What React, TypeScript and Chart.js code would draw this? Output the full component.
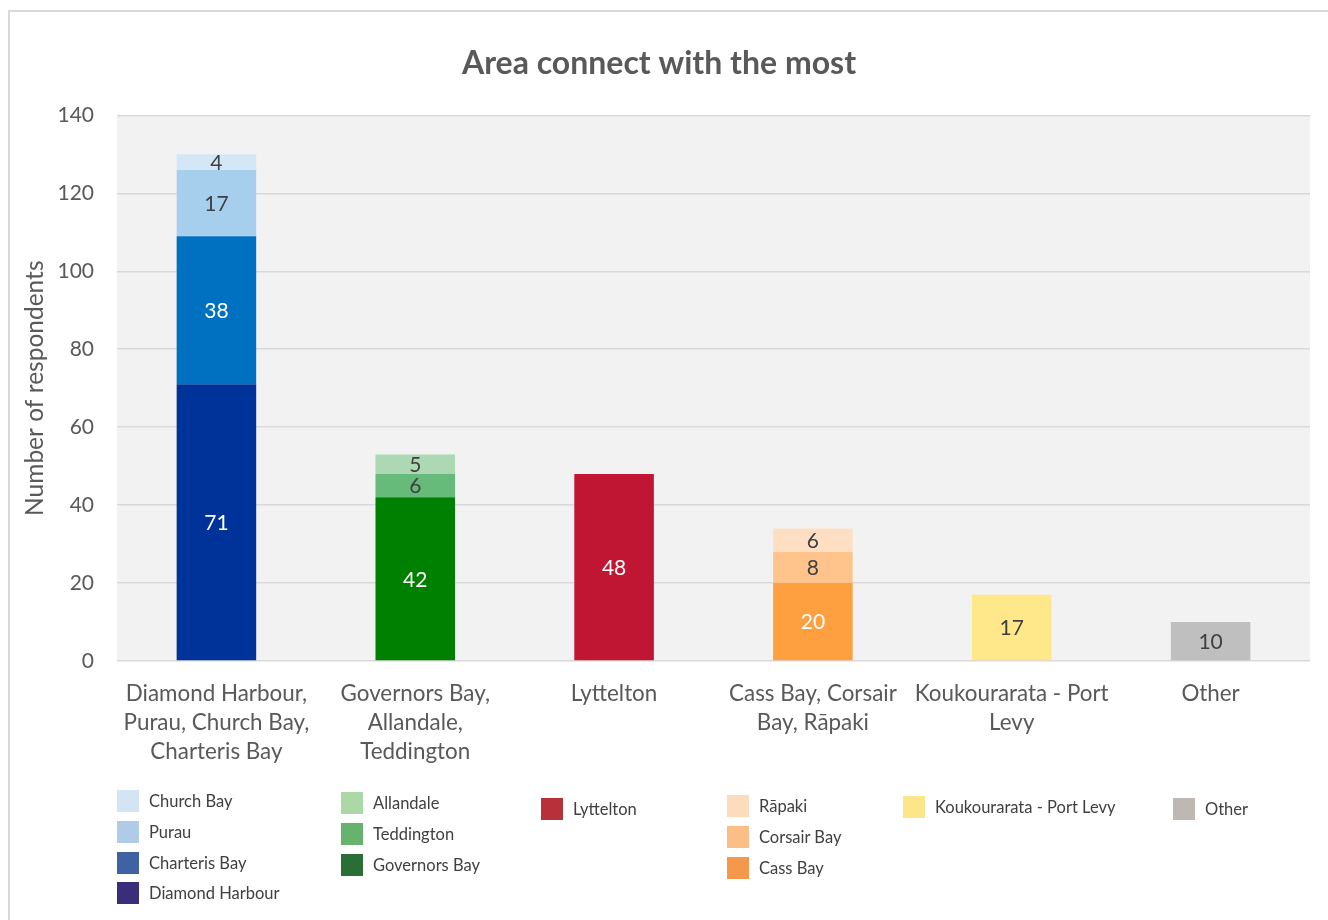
import React, { useEffect, useRef } from "react";
import { Chart, registerables } from "chart.js";

Chart.register(...registerables);

const titleText = "Area connect with the most";
const yAxisTitle = "Number of respondents";

const categories: string[][] = [
  ["Diamond Harbour,", "Purau, Church Bay,", "Charteris Bay"],
  ["Governors Bay,", "Allandale,", "Teddington"],
  ["Lyttelton"],
  ["Cass Bay, Corsair", "Bay, Rāpaki"],
  ["Koukourarata - Port", "Levy"],
  ["Other"],
];

// stacked segments, bottom first within each category
const segmentNames = [
  "Diamond Harbour",
  "Charteris Bay",
  "Purau",
  "Church Bay",
  "Governors Bay",
  "Teddington",
  "Allandale",
  "Lyttelton",
  "Cass Bay",
  "Corsair Bay",
  "Rāpaki",
  "Koukourarata - Port Levy",
  "Other",
];
const segmentCategory = [0, 0, 0, 0, 1, 1, 1, 2, 3, 3, 3, 4, 5];
const segmentValues = [71, 38, 17, 4, 42, 6, 5, 48, 20, 8, 6, 17, 10];

const barColors = [
  "#003399",
  "#0070c0",
  "#a6cfee",
  "#d3e7f6",
  "#008000",
  "#66bb7a",
  "#acd8b4",
  "#c01533",
  "#ffa040",
  "#ffc48c",
  "#ffdfc4",
  "#ffe88a",
  "#bfbfbf",
];
const legendColors = [
  "#3a2d7a",
  "#3f62a3",
  "#afcbe8",
  "#d3e5f4",
  "#2a6e36",
  "#66b36e",
  "#acd8a8",
  "#b8313a",
  "#f5984c",
  "#fbbe86",
  "#fddcbe",
  "#fde68a",
  "#bfb8b2",
];
const labelColors = [
  "#ffffff",
  "#ffffff",
  "#404040",
  "#404040",
  "#ffffff",
  "#404040",
  "#404040",
  "#ffffff",
  "#ffffff",
  "#404040",
  "#404040",
  "#404040",
  "#404040",
];

const yTicks = [0, 20, 40, 60, 80, 100, 120, 140];

// legend groups (column order, top to bottom) as indices into segmentNames
const legendGroups = [
  [3, 2, 1, 0],
  [6, 5, 4],
  [7],
  [10, 9, 8],
  [11],
  [12],
];
const legendGroupPos = [
  { left: 109, top: 778 },
  { left: 333, top: 780 },
  { left: 533, top: 786 },
  { left: 719, top: 783 },
  { left: 895, top: 784 },
  { left: 1165, top: 786 },
];

const FONT = "Lato, 'Open Sans', sans-serif";

const plotBg = {
  id: "plotBg",
  beforeDraw(chart: any) {
    const { ctx, chartArea } = chart;
    ctx.save();
    ctx.fillStyle = "#f2f2f2";
    ctx.fillRect(chartArea.left, chartArea.top, chartArea.right - chartArea.left, chartArea.bottom - chartArea.top);
    ctx.restore();
  },
};

const barLabels = {
  id: "barLabels",
  afterDatasetsDraw(chart: any) {
    const { ctx } = chart;
    ctx.save();
    ctx.font = `21px ${FONT}`;
    ctx.textAlign = "center";
    ctx.textBaseline = "middle";
    chart.data.datasets.forEach((ds: any, di: number) => {
      const meta = chart.getDatasetMeta(di);
      meta.data.forEach((el: any, i: number) => {
        const v = ds.data[i];
        if (v === null || v === undefined) return;
        ctx.fillStyle = labelColors[di];
        ctx.fillText(String(v), el.x, (el.y + el.base) / 2 + 1);
      });
    });
    ctx.restore();
  },
};

export default function App() {
  const ref = useRef<HTMLCanvasElement>(null);

  useEffect(() => {
    if (!ref.current) return;
    const datasets = segmentNames.map((name, si) => ({
      label: name,
      data: categories.map((_, ci) => (segmentCategory[si] === ci ? segmentValues[si] : null)),
      backgroundColor: barColors[si],
      borderWidth: 0,
      stack: "s",
      categoryPercentage: 1,
      barPercentage: 0.4,
    }));
    const chart = new Chart(ref.current, {
      type: "bar",
      data: { labels: categories, datasets },
      options: {
        responsive: false,
        animation: false,
        layout: { padding: { left: 0, right: 10, top: 0, bottom: 0 } },
        plugins: {
          legend: { display: false },
          tooltip: { enabled: false },
          title: {
            display: true,
            text: titleText,
            color: "#595959",
            font: { family: FONT, size: 32, weight: "bold" },
            padding: { top: 36, bottom: 33 },
          },
        },
        scales: {
          x: {
            stacked: true,
            grid: { display: false },
            border: { display: false },
            ticks: {
              color: "#595959",
              font: { family: FONT, size: 22.4, lineHeight: 1.3 },
              padding: 10,
              maxRotation: 0,
              autoSkip: false,
            },
            afterFit(scale: any) {
              scale.height = 127;
            },
          },
          y: {
            stacked: true,
            min: 0,
            max: 140,
            afterBuildTicks(scale: any) {
              scale.ticks = yTicks.map((v) => ({ value: v }));
            },
            grid: { color: "#d9d9d9", lineWidth: 1.5, drawTicks: false },
            border: { display: false },
            ticks: {
              color: "#595959",
              font: { family: FONT, size: 21 },
              padding: 23,
            },
            title: {
              display: true,
              text: yAxisTitle,
              color: "#595959",
              font: { family: FONT, size: 24.5 },
              padding: { top: 12, bottom: 0 },
            },
            afterFit(scale: any) {
              scale.width = 109;
            },
          },
        },
      },
      plugins: [plotBg, barLabels],
    });
    return () => chart.destroy();
  }, []);

  return (
    <div style={{ position: "relative", width: 1312, height: 900, fontFamily: FONT }}>
      <div
        style={{
          position: "fixed",
          left: 8,
          top: 10,
          width: 1340,
          height: 940,
          borderLeft: "2px solid #d9d9d9",
          borderTop: "2px solid #d9d9d9",
          pointerEvents: "none",
        }}
      />
      <canvas ref={ref} width={1312} height={780} style={{ position: "absolute", left: 0, top: 0 }} />
      {legendGroups.map((group, gi) => (
        <div key={gi} style={{ position: "absolute", left: legendGroupPos[gi].left, top: legendGroupPos[gi].top }}>
          {group.map((si) => (
            <div key={si} style={{ display: "flex", alignItems: "center", height: 30.7 }}>
              <div style={{ width: 22, height: 22, background: legendColors[si], marginRight: 10 }} />
              <span style={{ fontSize: 16.5, color: "#404040", whiteSpace: "nowrap" }}>{segmentNames[si]}</span>
            </div>
          ))}
        </div>
      ))}
    </div>
  );
}
